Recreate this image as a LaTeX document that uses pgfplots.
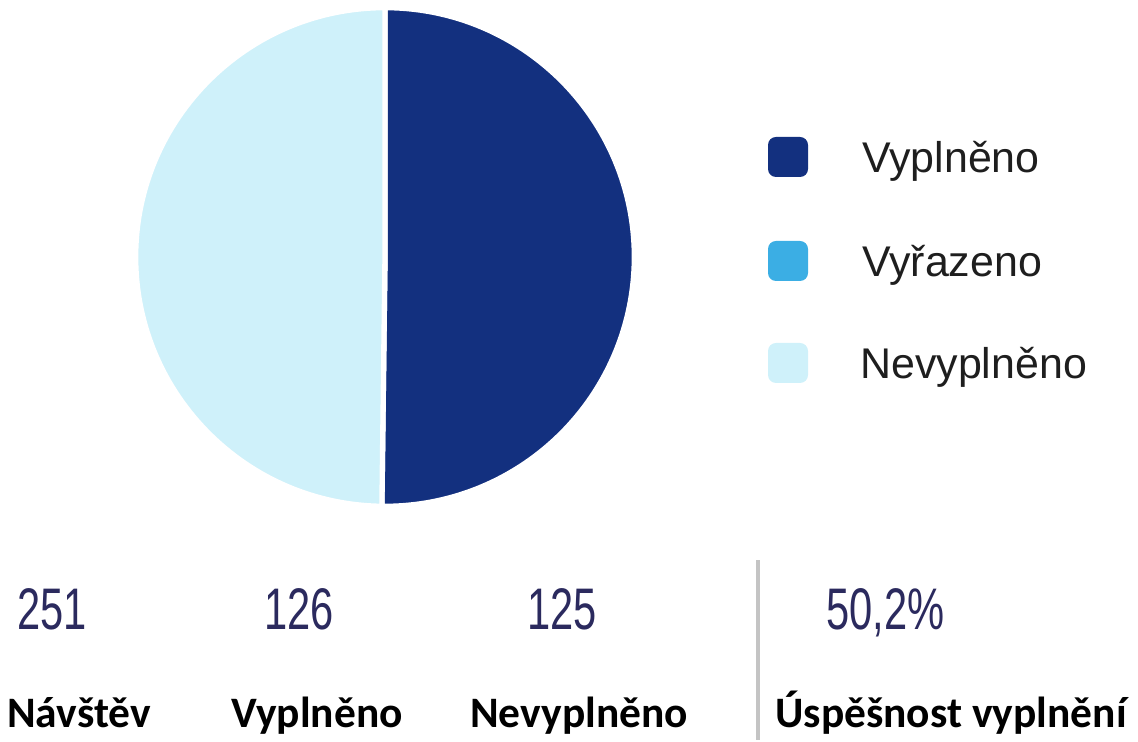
\documentclass[border=0pt]{standalone}
\usepackage{pgfplots}
\usepackage{pgfplotstable}
\pgfplotsset{compat=1.18}
\usepackage{fontspec}
\setmainfont{Liberation Sans}
\newfontfamily\labfont{Carlito}
\newfontfamily\numfont[FakeStretch=0.71]{Liberation Sans}
\definecolor{cA}{HTML}{13307F}
\definecolor{cB}{HTML}{3BAEE4}
\definecolor{cC}{HTML}{CFF1FA}
\definecolor{numcol}{HTML}{2B2A5E}
\definecolor{legtxt}{HTML}{1E1E1E}
\definecolor{sepcol}{HTML}{C4C4C4}

\pgfplotstableread{
label value
Vyplneno 126
Vyrazeno 0
Nevyplneno 125
}\piedata

\begin{document}
\begin{tikzpicture}
\pgfplotstablegetelem{0}{value}\of\piedata \let\va\pgfplotsretval
\pgfplotstablegetelem{1}{value}\of\piedata \let\vb\pgfplotsretval
\pgfplotstablegetelem{2}{value}\of\piedata \let\vc\pgfplotsretval
\pgfmathtruncatemacro\total{\va+\vb+\vc}
\pgfmathsetmacro\angA{90-360*(\va/\total)}
\pgfmathsetmacro\angB{\angA-360*(\vb/\total)}
\pgfmathsetmacro\angC{\angB-360*(\vc/\total)}
\begin{axis}[
  scale only axis, width=853.5pt, height=555pt,
  xmin=0, xmax=1138, ymin=0, ymax=740,
  hide axis, clip=false]
\path (axis cs:0,0) rectangle (axis cs:1138,740);
% pie slices from the table values
\filldraw[fill=cA, draw=white, line width=4pt]
  (axis cs:385,483) -- ++(90:187pt) arc[start angle=90, end angle=\angA, radius=187pt] -- cycle;
\ifdim\vb pt>0pt
\filldraw[fill=cB, draw=white, line width=4pt]
  (axis cs:385,483) -- ++(\angA:187pt) arc[start angle=\angA, end angle=\angB, radius=187pt] -- cycle;
\fi
\filldraw[fill=cC, draw=white, line width=4pt]
  (axis cs:385,483) -- ++(\angB:187pt) arc[start angle=\angB, end angle=\angC, radius=187pt] -- cycle;
% legend
\fill[cA, rounded corners=6pt] (axis cs:768,563) rectangle (axis cs:808,603);
\fill[cB, rounded corners=6pt] (axis cs:768,459) rectangle (axis cs:808,499);
\fill[cC, rounded corners=6pt] (axis cs:768,357) rectangle (axis cs:808,397);
\begin{scope}[every node/.style={inner sep=0pt, anchor=base west, text=legtxt, font=\fontsize{32.2}{36}\selectfont}]
\node at (axis cs:862,567) {Vyplněno};
\node at (axis cs:862,463) {Vyřazeno};
\node at (axis cs:860,361) {Nevyplněno};
\end{scope}
% numbers
\begin{scope}[every node/.style={inner sep=0pt, anchor=base west, text=numcol, font=\numfont\fontsize{44}{50}\selectfont}]
\node at (axis cs:17,110) {\total};
\node at (axis cs:264,110) {\va};
\node at (axis cs:527,110) {\vc};
\node at (axis cs:826,110) {50,2\%};
\end{scope}
% labels
\begin{scope}[every node/.style={inner sep=0pt, anchor=base west, text=black, font=\labfont\bfseries\fontsize{32.6}{38}\selectfont}]
\node at (axis cs:7,12) {Návštěv};
\node at (axis cs:231,12) {Vyplněno};
\node at (axis cs:470,12) {Nevyplněno};
\node at (axis cs:775,12) {Úspěšnost vyplnění};
\end{scope}
\draw[sepcol, line width=2.6pt] (axis cs:758,0) -- (axis cs:758,180);
\end{axis}
\end{tikzpicture}
\end{document}
